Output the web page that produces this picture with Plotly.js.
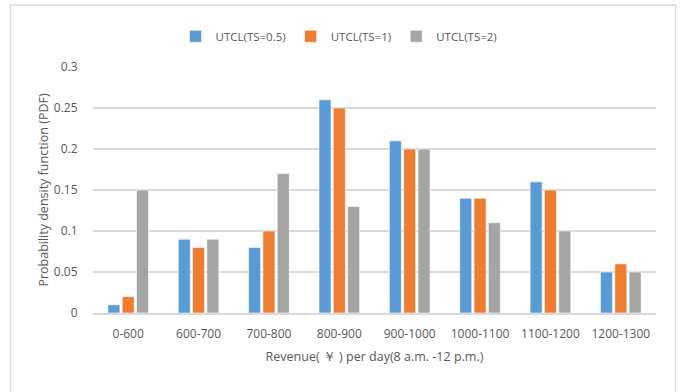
<!DOCTYPE html>
<html>
<head>
<meta charset="utf-8">
<script src="https://cdn.plot.ly/plotly-3.0.1.min.js"></script>
<style>
  html, body { margin: 0; padding: 0; background: #fff; }
  #chart { width: 680px; height: 392px; }
</style>
</head>
<body>
<div id="chart"></div>
<script>
// Revenue bands (yuan per day, 8 a.m. - 12 p.m.)
const categories = ['0-600', '600-700', '700-800', '800-900', '900-1000', '1000-1100', '1100-1200', '1200-1300'];

// Probability density for each UTCL threshold setting
const utclTs05 = [0.01, 0.09, 0.08, 0.26, 0.21, 0.14, 0.16, 0.05];
const utclTs1  = [0.02, 0.08, 0.10, 0.25, 0.20, 0.14, 0.15, 0.06];
const utclTs2  = [0.15, 0.09, 0.17, 0.13, 0.20, 0.11, 0.10, 0.05];

const seriesNames = ['UTCL(TS=0.5)', 'UTCL(TS=1)', 'UTCL(TS=2)'];
const seriesColors = ['#5B9BD5', '#ED7D31', '#A5A5A5'];
const seriesValues = [utclTs05, utclTs1, utclTs2];

const traces = seriesValues.map((vals, i) => ({
  type: 'bar',
  name: seriesNames[i],
  x: categories,
  y: vals,
  marker: { color: seriesColors[i], line: { color: '#ffffff', width: 0.6 } },
  hoverinfo: 'x+y+name'
}));

const fontFamily = '"Open Sans", "Noto Sans", sans-serif';
const textColor = '#595959';

// plot-area geometry in pixels, used to place the outer frame
const L = 93, R = 24, T = 67, B = 79;
const W = 680 - L - R, H = 392 - T - B;
const px = x => (x - L) / W;
const py = y => (392 - B - y) / H;

const layout = {
  width: 680,
  height: 392,
  margin: { l: L, r: R, t: T, b: B, pad: 0 },
  paper_bgcolor: '#ffffff',
  plot_bgcolor: '#ffffff',
  font: { family: fontFamily, color: textColor, size: 12 },
  barmode: 'group',
  bargap: 0.39,
  bargroupgap: 0.16,
  showlegend: true,
  legend: {
    orientation: 'h',
    x: 0.437, xanchor: 'center',
    y: 1.125, yanchor: 'middle',
    font: { size: 11.5, color: textColor },
    itemwidth: 30,
    traceorder: 'normal'
  },
  xaxis: {
    type: 'category',
    showgrid: false,
    showline: true,
    linecolor: '#d9d9d9',
    linewidth: 1.5,
    ticks: 'outside',
    ticklen: 9,
    tickcolor: 'rgba(0,0,0,0)',
    tickfont: { size: 12, color: textColor },
    title: { text: 'Revenue( ￥ ) per day(8 a.m. -12 p.m.)', font: { size: 12.5, color: textColor }, standoff: 11 },
    fixedrange: true
  },
  yaxis: {
    range: [0, 0.3],
    dtick: 0.05,
    tick0: 0,
    showgrid: true,
    gridcolor: '#d9d9d9',
    gridwidth: 1.3,
    zeroline: false,
    showline: false,
    ticks: 'outside',
    ticklen: 12,
    tickcolor: 'rgba(0,0,0,0)',
    tickfont: { size: 12, color: textColor },
    title: { text: 'Probability density function (PDF)', font: { size: 12.5, color: textColor }, standoff: 2 },
    fixedrange: true
  },
  shapes: [{
    type: 'rect',
    xref: 'paper', yref: 'paper',
    x0: px(10.5), x1: px(675.5),
    y0: py(400), y1: py(5),
    line: { color: '#d9d9d9', width: 1.5 },
    fillcolor: 'rgba(0,0,0,0)',
    layer: 'below'
  }]
};

Plotly.newPlot('chart', traces, layout, { displayModeBar: false, staticPlot: true });
</script>
</body>
</html>
